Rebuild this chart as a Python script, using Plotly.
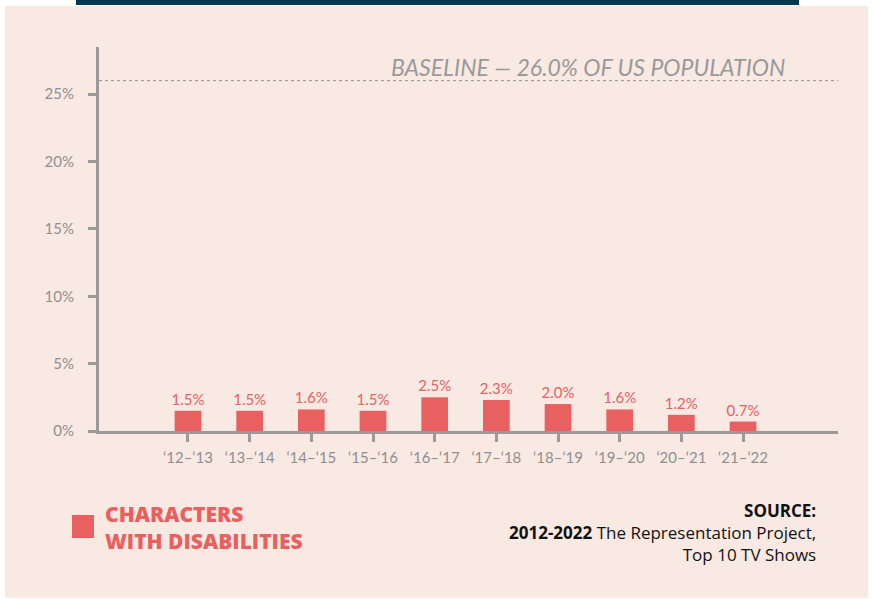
import plotly.graph_objects as go

# Data
seasons = ["‘12–‘13", "‘13–‘14", "‘14–‘15", "‘15–‘16", "‘16–‘17",
           "‘17–‘18", "‘18–‘19", "‘19–‘20", "‘20–‘21", "‘21–‘22"]
pct_disab = [1.5, 1.5, 1.6, 1.5, 2.5, 2.3, 2.0, 1.6, 1.2, 0.7]
bar_labels = [f"{v:.1f}%" for v in pct_disab]
baseline = 26.0
y_ticks = [0, 5, 10, 15, 20, 25]
y_ticktext = [f"{v}%" for v in y_ticks]

RED = "#e8605f"
GREY = "#8f8f8f"
PANEL = "#f9e9e3"
FONT = "Lato"

# plot area in pixels (left, right, top, bottom)
L, R, T, B = 99, 838, 47, 431


def px_x(p):
    return (p - L) / (R - L)


def px_y(p):
    return (B - p) / (B - T)


fig = go.Figure()
fig.add_trace(go.Bar(
    x=seasons, y=pct_disab, marker_color=RED, marker_line_width=0,
    text=bar_labels, textposition="outside", cliponaxis=False,
    constraintext="none",
    textfont=dict(color=RED, size=15, family=FONT),
    hoverinfo="skip",
))

# background panel + top band
fig.add_shape(type="rect", xref="paper", yref="paper", layer="below",
              x0=px_x(5), x1=px_x(868), y0=px_y(598), y1=px_y(6),
              fillcolor=PANEL, line_width=0)
fig.add_shape(type="rect", xref="paper", yref="paper", layer="below",
              x0=px_x(76), x1=px_x(799), y0=px_y(5), y1=px_y(-2),
              fillcolor="#033a4b", line_width=0)

# baseline
fig.add_shape(type="line", xref="paper", yref="y", x0=0, x1=1,
              y0=baseline, y1=baseline,
              line=dict(color=GREY, width=1, dash="dot"))
fig.add_annotation(xref="paper", yref="paper", x=px_x(787), y=px_y(67),
                   xanchor="right", yanchor="middle", showarrow=False,
                   text=f"<i>BASELINE — {baseline:.1f}% OF US POPULATION</i>",
                   font=dict(size=23, color="#999999", family=FONT))

# legend
fig.add_shape(type="rect", xref="paper", yref="paper",
              x0=px_x(72), x1=px_x(94), y0=px_y(538), y1=px_y(515),
              fillcolor=RED, line_width=0)
fig.add_annotation(xref="paper", yref="paper", x=px_x(103), y=px_y(527),
                   xanchor="left", yanchor="middle", showarrow=False, align="left",
                   text="CHARACTERS<br>WITH DISABILITIES",
                   font=dict(size=21, color=RED, family="Open Sans", weight=800))

# source
fig.add_annotation(xref="paper", yref="paper", x=px_x(818), y=px_y(532),
                   xanchor="right", yanchor="middle", showarrow=False, align="right",
                   text="<b>SOURCE:</b><br><b>2012-2022</b> The Representation Project,"
                        "<br>Top 10 TV Shows",
                   font=dict(size=17, color="#111111", family="Open Sans"))

fig.update_layout(
    width=872, height=599,
    margin=dict(l=L, r=872 - R, t=T, b=599 - B),
    paper_bgcolor="white", plot_bgcolor="rgba(0,0,0,0)",
    showlegend=False, bargap=0.567,
    font=dict(family=FONT, color=GREY),
)
fig.update_xaxes(
    range=[-1.443, 10.54], showgrid=False, showline=True, linewidth=3,
    linecolor="#9a9a9a", ticks="outside", ticklen=8, tickwidth=3,
    tickcolor="#9a9a9a", tickfont=dict(size=15, color=GREY, family=FONT),
    ticklabelstandoff=3, fixedrange=True,
)
fig.update_yaxes(
    range=[0, 28.5], tickvals=y_ticks, ticktext=y_ticktext, showgrid=False,
    zeroline=False, showline=True, linewidth=3, linecolor="#9a9a9a",
    ticks="outside", ticklen=8, tickwidth=3, tickcolor="#9a9a9a",
    ticklabelstandoff=11, tickfont=dict(size=15, color=GREY, family=FONT),
    fixedrange=True,
)

fig.write_html("out.html", config={"displayModeBar": False},
               post_script="document.body.style.margin='0';")
